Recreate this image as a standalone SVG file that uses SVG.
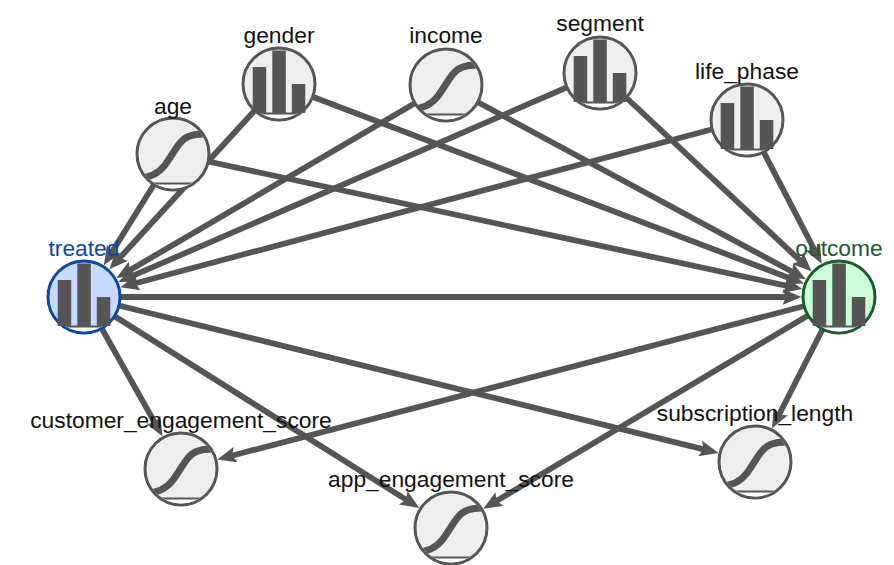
<svg xmlns="http://www.w3.org/2000/svg" width="894" height="565" viewBox="0 0 894 565">
<style>
text{font-family:"Liberation Sans",Arial,sans-serif;font-size:22.8px;text-anchor:middle;fill:#111}
.e{stroke:#555;stroke-width:5.800;fill:none;marker-end:url(#a)}
.ring{fill:#eee;stroke:#555;stroke-width:3}
.bar{fill:#555}
.base{stroke:#555;stroke-width:2;fill:none}
.sc{stroke:#555;stroke-width:7;fill:none}
</style>
<defs>
<marker id="a" markerUnits="userSpaceOnUse" markerWidth="20" markerHeight="16" refX="8" refY="8" orient="auto"><path d="M0,0L19,8L0,16L3.500,8Z" fill="#555"/></marker>
<clipPath id="cp"><circle r="34.5"/></clipPath>
<g id="hist"><g clip-path="url(#cp)"><rect x="-40" y="29.500" width="80" height="10" fill="#fff"/><path class="base" d="M-36,29.500H36"/></g><rect class="bar" x="-26.300" y="-17" width="13.500" height="46"/><rect class="bar" x="-6.700" y="-33.500" width="13.500" height="62.500"/><rect class="bar" x="12.800" y="0" width="13.500" height="29"/></g>
<g id="curve"><g clip-path="url(#cp)"><rect x="-40" y="29.500" width="80" height="10" fill="#fff"/><path class="base" d="M-36,29.500H36"/><path class="sc" d="M-36,24C-22,24 -14,19 -8,11C-2,3 2,-5 7,-11C12,-17 18,-20 32,-20"/></g></g>
</defs>
<g id="connectors">
<path class="e" d="M173,154L109.600,255.800"/>
<path class="e" d="M279,84L116.700,261.200"/>
<path class="e" d="M446,85L125.900,272.500"/>
<path class="e" d="M600,73L128.500,277.700"/>
<path class="e" d="M747,120L130.900,284.500"/>
<path class="e" d="M173,154L791.600,286.800"/>
<path class="e" d="M279,84L793.700,279.700"/>
<path class="e" d="M446,85L796.300,274"/>
<path class="e" d="M600,73L803.600,263.800"/>
<path class="e" d="M747,120L816.600,254"/>
<path class="e" d="M84,297L790.500,297"/>
<path class="e" d="M84,297L157.200,426.800"/>
<path class="e" d="M839,297L227.900,456.700"/>
<path class="e" d="M84,297L410,502.100"/>
<path class="e" d="M839,297L492.700,503.200"/>
<path class="e" d="M84,297L707.900,450.400"/>
<path class="e" d="M839,297L777,418.800"/>
</g>
<g id="age"><g transform="translate(173,154)"><circle class="ring" r="36"/><use href="#curve"/></g><text x="173" y="114">age</text></g>
<g id="gender"><g transform="translate(279,84)"><circle class="ring" r="36"/><use href="#hist"/></g><text x="279" y="43">gender</text></g>
<g id="income"><g transform="translate(446,85)"><circle class="ring" r="36"/><use href="#curve"/></g><text x="446" y="43">income</text></g>
<g id="segment"><g transform="translate(600,73)"><circle class="ring" r="36"/><use href="#hist"/></g><text x="600" y="31">segment</text></g>
<g id="life_phase"><g transform="translate(747,120)"><circle class="ring" r="36"/><use href="#hist"/></g><text x="747" y="79">life_phase</text></g>
<g id="treated"><g transform="translate(84,297)"><circle r="36" fill="#c5dcff" stroke="#0d47a1" stroke-width="3"/><use href="#hist"/></g><text x="84" y="256" style="fill:#0d47a1">treated</text></g>
<g id="outcome"><g transform="translate(839,297)"><circle r="36" fill="#ccffd9" stroke="#1a5c2e" stroke-width="3"/><use href="#hist"/></g><text x="839" y="256" style="fill:#1a5c2e">outcome</text></g>
<g id="customer_engagement_score"><g transform="translate(181,469)"><circle class="ring" r="36"/><use href="#curve"/></g><text x="181" y="428">customer_engagement_score</text></g>
<g id="app_engagement_score"><g transform="translate(451,528)"><circle class="ring" r="36"/><use href="#curve"/></g><text x="451" y="487">app_engagement_score</text></g>
<g id="subscription_length"><g transform="translate(755,462)"><circle class="ring" r="36"/><use href="#curve"/></g><text x="755" y="421">subscription_length</text></g>
</svg>
